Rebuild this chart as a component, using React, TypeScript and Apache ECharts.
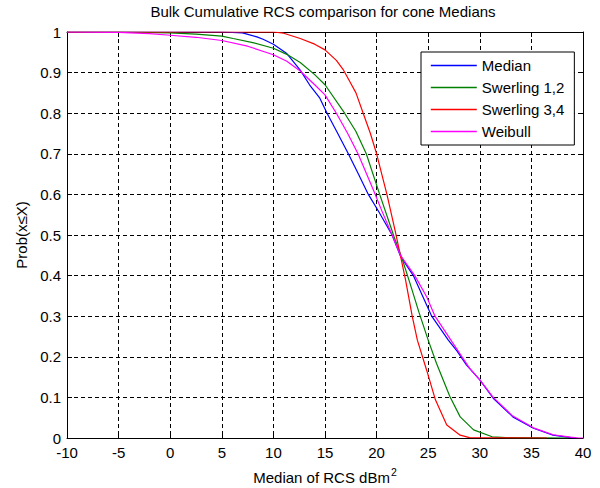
import React, { useEffect, useRef } from "react";
import * as echarts from "echarts";

const titleText = "Bulk Cumulative RCS comparison for cone Medians";
const xTicks = { min: -10, max: 40, interval: 5 };
const yTicks = { min: 0, max: 1, interval: 0.1 };

const seriesNames = ["Median", "Swerling 1,2", "Swerling 3,4", "Weibull"];
const seriesColors = ["#0000ff", "#008000", "#ff0000", "#ff00ff"];

const medianX = [-10, 0, 5, 7, 8.4, 9, 10, 11.3, 12.6, 13.5, 14.5, 15.2, 16.2, 17.26, 18.2, 19.2, 20.2, 21.5, 22.33, 23.56, 25.34, 26.95, 27.8, 28.7, 30, 31.3, 33.2, 35.2, 37.1, 38.8, 39.3];
const medianY = [1, 1, 1, 0.998, 0.988, 0.982, 0.97, 0.947, 0.906, 0.87, 0.837, 0.8, 0.752, 0.7, 0.652, 0.6, 0.558, 0.5, 0.447, 0.4, 0.3, 0.241, 0.214, 0.18, 0.143, 0.098, 0.052, 0.024, 0.007, 0.001, 0];

const swerling12X = [-10, -5, 0, 2.5, 5, 6.1, 8, 10, 11.3, 12.6, 14, 15, 16.9, 18, 19, 20.3, 21.1, 21.7, 22.4, 23.2, 24.1, 25, 25.8, 27.1, 28.1, 29.4, 31.2, 32.5, 38.6];
const swerling12Y = [1, 1, 0.998, 0.995, 0.99, 0.984, 0.974, 0.96, 0.945, 0.925, 0.895, 0.87, 0.8, 0.755, 0.7, 0.6, 0.54, 0.495, 0.447, 0.384, 0.31, 0.241, 0.184, 0.102, 0.052, 0.02, 0.003, 0.001, 0];

const swerling34X = [-10, 10, 11, 12.6, 14, 15, 16.1, 16.8, 17.4, 18, 18.7, 19.4, 20, 21, 21.8, 22.33, 22.8, 23.45, 23.95, 24.85, 25.7, 26.8, 28.1, 29, 36.5];
const swerling34Y = [1, 1, 0.997, 0.984, 0.97, 0.956, 0.93, 0.906, 0.878, 0.85, 0.8, 0.75, 0.7, 0.6, 0.51, 0.447, 0.39, 0.3, 0.241, 0.167, 0.094, 0.032, 0.007, 0.001, 0];

const weibullX = [-10, -5, -2, 0, 2.5, 5, 7.5, 10, 11.3, 12.6, 14, 15, 16.1, 17.2, 18.2, 19.7, 20.5, 21.5, 22.33, 23.7, 24.85, 25.66, 27.2, 29, 30, 31.3, 33.2, 35.2, 37.1, 38.8, 39.6, 40];
const weibullY = [1, 0.999, 0.996, 0.992, 0.987, 0.979, 0.965, 0.944, 0.928, 0.904, 0.87, 0.845, 0.8, 0.75, 0.7, 0.61, 0.56, 0.5, 0.449, 0.4, 0.348, 0.3, 0.241, 0.172, 0.143, 0.1, 0.054, 0.025, 0.008, 0.002, 0, 0];

const seriesXs = [medianX, swerling12X, swerling34X, weibullX];
const seriesYs = [medianY, swerling12Y, swerling34Y, weibullY];

const FONT = "'Liberation Sans', Arial, sans-serif";

export default function App() {
  const ref = useRef<HTMLDivElement>(null);
  useEffect(() => {
    document.body.style.margin = "0";
    if (!ref.current) return;
    const chart = echarts.init(ref.current, null, { renderer: "svg" });
    const axisLine = { show: true, onZero: false, lineStyle: { color: "#000", width: 1 } };
    const axisTick = { show: true, inside: true, length: 5, lineStyle: { color: "#000", width: 1 } };
    const option: any = {
      animation: false,
      color: seriesColors,
      textStyle: { fontFamily: FONT },
      title: {
        text: titleText,
        left: 323,
        top: 4,
        textAlign: "center",
        padding: 0,
        textStyle: { fontSize: 15, fontWeight: "normal", color: "#000", fontFamily: FONT },
      },
      grid: { left: 67, right: 17, top: 32, bottom: 50, containLabel: false, outerBoundsMode: "none" },
      legend: {
        data: seriesNames.map((name, i) => ({
          name,
          lineStyle: { color: seriesColors[i], width: 1.6, opacity: 1 },
        })),
        orient: "vertical",
        left: 421,
        top: 52,
        padding: [6, 10, 6, 9],
        itemGap: 7,
        itemWidth: 46,
        itemHeight: 14,
        itemStyle: { opacity: 0 },
        borderColor: "#000",
        borderWidth: 1,
        borderRadius: 0,
        backgroundColor: "#fff",
        textStyle: { fontSize: 15, color: "#000", fontFamily: FONT },
      },
      xAxis: [
        {
          type: "value",
          min: xTicks.min,
          max: xTicks.max,
          interval: xTicks.interval,
          position: "bottom",
          axisLine,
          axisTick,
          axisLabel: { color: "#000", fontSize: 15, margin: 7, fontFamily: FONT },
          splitLine: { show: true, lineStyle: { color: "#000", type: [4, 3], width: 1 } },
          name: "{a|Median of RCS dBm}{s|2}",
          nameLocation: "middle",
          nameGap: 28,
          nameTextStyle: {
            color: "#000",
            fontFamily: FONT,
            rich: {
              a: { fontSize: 15, color: "#000", fontFamily: FONT, verticalAlign: "bottom" },
              s: { fontSize: 10.5, color: "#000", fontFamily: FONT, verticalAlign: "bottom", padding: [0, 0, 8, 1] },
            },
          },
        },
        {
          type: "value",
          min: xTicks.min,
          max: xTicks.max,
          interval: xTicks.interval,
          position: "top",
          axisLine,
          axisTick,
          axisLabel: { show: false },
          splitLine: { show: false },
        },
      ],
      yAxis: [
        {
          type: "value",
          min: yTicks.min,
          max: yTicks.max,
          interval: yTicks.interval,
          position: "left",
          axisLine,
          axisTick,
          axisLabel: {
            color: "#000",
            fontSize: 15,
            margin: 6,
            fontFamily: FONT,
            formatter: (v: number) => String(Math.round(v * 10) / 10),
          },
          splitLine: { show: true, lineStyle: { color: "#000", type: [4, 3], width: 1 } },
          name: "Prob(x\u2264X)",
          nameLocation: "middle",
          nameGap: 36,
          nameTextStyle: { color: "#000", fontSize: 15, fontFamily: FONT },
        },
        {
          type: "value",
          min: yTicks.min,
          max: yTicks.max,
          interval: yTicks.interval,
          position: "right",
          axisLine,
          axisTick,
          axisLabel: { show: false },
          splitLine: { show: false },
        },
      ],
      series: seriesNames.map((name, i) => ({
        name,
        type: "line",
        xAxisIndex: 0,
        yAxisIndex: 0,
        showSymbol: false,
        symbol: "none",
        color: seriesColors[i],
        itemStyle: { color: seriesColors[i] },
        lineStyle: { color: seriesColors[i], width: 1.2 },
        data: seriesXs[i].map((x, j) => [x, seriesYs[i][j]]),
      })),
    };
    chart.setOption(option);
    return () => chart.dispose();
  }, []);
  return <div ref={ref} style={{ width: 600, height: 488 }} />;
}
